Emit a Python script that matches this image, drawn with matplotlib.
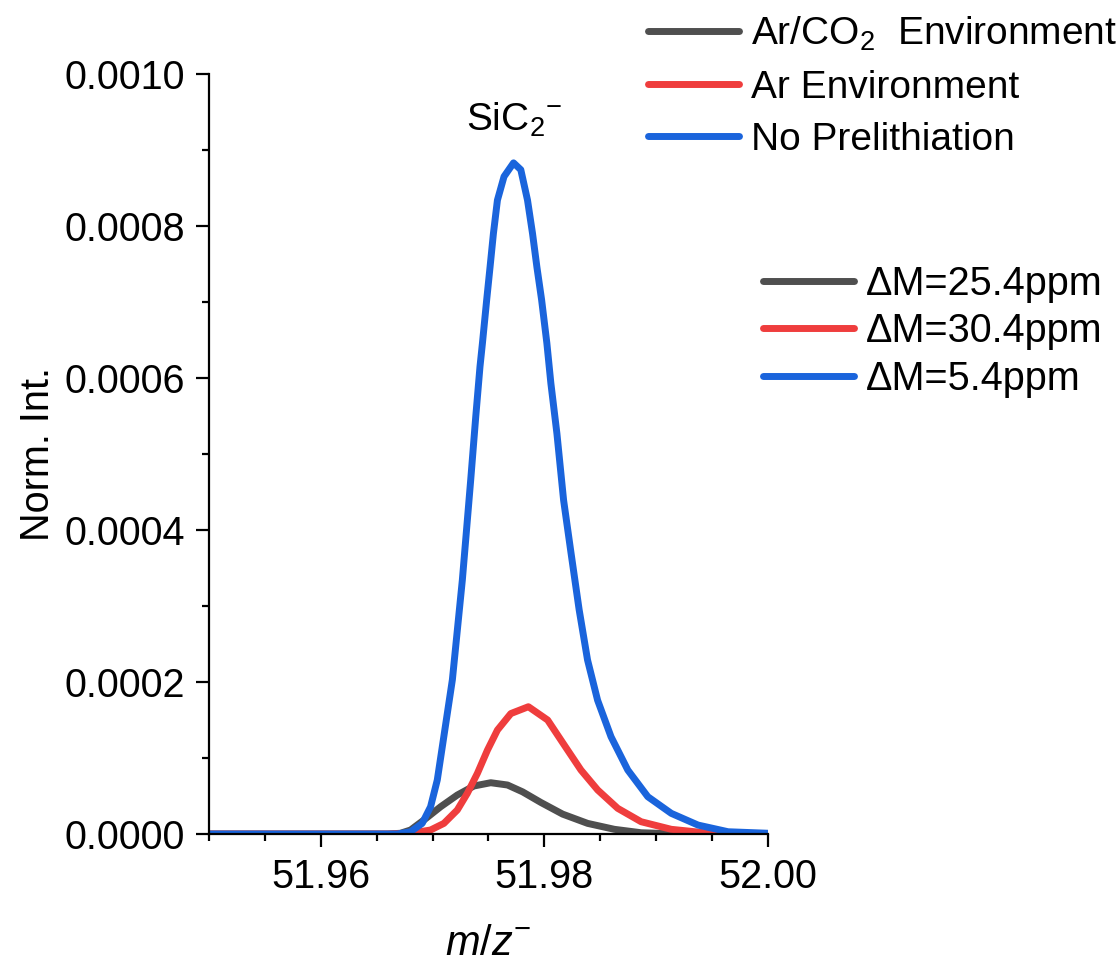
import matplotlib
matplotlib.use('Agg')
import matplotlib.pyplot as plt
from matplotlib.ticker import MultipleLocator, FormatStrFormatter

plt.rcParams['font.family'] = ['Liberation Sans', 'DejaVu Sans']
plt.rcParams['mathtext.fontset'] = 'custom'
plt.rcParams['mathtext.rm'] = 'Liberation Sans'
plt.rcParams['mathtext.it'] = 'Liberation Sans:italic'

# SiC2- peak, normalised intensity vs m/z
mz_arco2 = [51.9500, 51.9660, 51.96713, 51.96803, 51.96922, 51.97072, 51.97221, 51.97370,
            51.97520, 51.97670, 51.97805, 51.97969, 51.98163, 51.98387, 51.98626, 51.98865,
            51.99224, 52.0000]
int_arco2 = [0.0, 0.0, 0.000001, 0.0000053, 0.0000184, 0.0000359, 0.0000513, 0.0000632,
             0.0000675, 0.0000645, 0.0000555, 0.0000415, 0.0000262, 0.000014, 0.0000062, 0.0000017,
             0.0, 0.0]

mz_ar = [51.9500, 51.9660, 51.96803, 51.96982, 51.97101, 51.97221, 51.97311, 51.97401,
         51.97491, 51.97580, 51.97700, 51.97857, 51.98029, 51.98178, 51.98327, 51.98477,
         51.98656, 51.98865, 51.99135, 51.99433, 51.99733, 52.0000]
int_ar = [0.0, 0.0, 0.000001, 0.0000053, 0.000014, 0.0000316, 0.0000536, 0.0000799,
          0.0001105, 0.0001368, 0.0001585, 0.0001675, 0.000150, 0.000117, 0.0000842, 0.0000579,
          0.0000338, 0.0000162, 0.0000062, 0.0000017, 0.0, 0.0]

mz_noli = [51.9500, 51.9600, 51.96683, 51.96803, 51.96907, 51.96982, 51.97042, 51.97087,
           51.97132, 51.97177, 51.97266, 51.97341, 51.97386, 51.97424, 51.97446, 51.97484,
           51.97514, 51.97544, 51.97580, 51.97639, 51.97724, 51.97789, 51.97849, 51.97894,
           51.97933, 51.97975, 51.98022, 51.98058, 51.98112, 51.98172, 51.98238, 51.98311,
           51.98386, 51.98476, 51.98596, 51.98746, 51.98925, 51.99135, 51.99374, 51.99643,
           52.0000]
int_noli = [0.0, 0.0, 0.0, 0.000003, 0.000014, 0.0000359, 0.0000711, 0.000115,
            0.000159, 0.000203, 0.000334, 0.000466, 0.000549, 0.000615, 0.000646, 0.000703,
            0.000746, 0.000790, 0.000834, 0.000865, 0.000883, 0.000874, 0.000834, 0.000790,
            0.000746, 0.000703, 0.000646, 0.000593, 0.000527, 0.000439, 0.000370, 0.000295,
            0.000229, 0.000176, 0.000128, 0.0000842, 0.0000491, 0.0000272, 0.0000118, 0.000003,
            0.000001]

labels_env = [r'Ar/CO$_2$  Environment', 'Ar Environment', 'No Prelithiation']
labels_dm = ['ΔM=25.4ppm', 'ΔM=30.4ppm', 'ΔM=5.4ppm']
colors = ['#4f4f4f', '#ef3d3d', '#1a64dc']

fig = plt.figure(figsize=(11.2, 9.68), dpi=100)
ax = fig.add_axes([0.1866, 0.1384, 0.4991, 0.7852])

lines = []
for mz, inten, c in zip([mz_arco2, mz_ar, mz_noli], [int_arco2, int_ar, int_noli], colors):
    ln, = ax.plot(mz, inten, color=c, lw=5, solid_joinstyle='round', solid_capstyle='round')
    lines.append(ln)

ax.set_xlim(51.95, 52.00)
ax.set_ylim(0, 0.0010)
ax.xaxis.set_major_locator(MultipleLocator(0.02))
ax.xaxis.set_minor_locator(MultipleLocator(0.005))
ax.yaxis.set_major_locator(MultipleLocator(0.0002))
ax.yaxis.set_minor_locator(MultipleLocator(0.0001))
ax.xaxis.set_major_formatter(FormatStrFormatter('%.2f'))
ax.yaxis.set_major_formatter(FormatStrFormatter('%.4f'))

for s in ['top', 'right']:
    ax.spines[s].set_visible(False)
for s in ['left', 'bottom']:
    ax.spines[s].set_linewidth(1.6)
ax.tick_params(which='major', direction='out', length=9.5, width=1.6, labelsize=28.5, pad=8)
ax.tick_params(which='minor', direction='out', length=4.7, width=1.6)

ax.set_xlabel(r'$m/z^{-}$', fontsize=30, labelpad=20)
ax.set_ylabel('Norm. Int.', fontsize=28.5, labelpad=5)

ax.text(51.9773, 0.000915, r'SiC$_2$$^{-}$', fontsize=28, ha='center', va='bottom')

leg1 = fig.legend(lines, labels_env, loc='upper left', bbox_to_anchor=(0.5786, 0.9846),
                  frameon=False, fontsize=28, handlelength=2.35, handletextpad=0.3,
                  labelspacing=0.42, borderpad=0, borderaxespad=0)
leg2 = fig.legend(lines, labels_dm, loc='upper left', bbox_to_anchor=(0.6813, 0.7267),
                  frameon=False, fontsize=28.5, handlelength=2.3, handletextpad=0.3,
                  labelspacing=0.24, borderpad=0, borderaxespad=0)

fig.savefig('out.png', dpi=100)
